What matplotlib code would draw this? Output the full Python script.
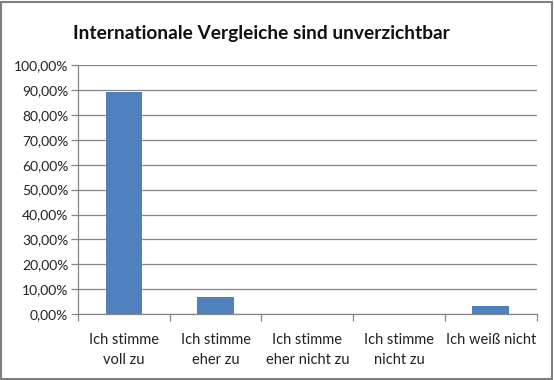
import matplotlib
matplotlib.use("Agg")
import matplotlib.pyplot as plt
from matplotlib.ticker import FuncFormatter, FixedLocator
from matplotlib.patches import Rectangle

categories = ["Ich stimme\nvoll zu", "Ich stimme\neher zu", "Ich stimme\neher nicht zu",
              "Ich stimme\nnicht zu", "Ich weiß nicht"]
values = [89.3, 6.9, 0.0, 0.0, 3.3]
yticks = [0, 10, 20, 30, 40, 50, 60, 70, 80, 90, 100]

plt.rcParams['font.family'] = ['Lato', 'DejaVu Sans']

W, H = 554, 380
fig = plt.figure(figsize=(W/100, H/100), dpi=100)
ax = fig.add_axes([78/W, 1-314/H, (536.5-78)/W, (314-65.3)/H])

x = list(range(len(categories)))
ax.bar(x, values, width=0.4, color="#4f81bd", zorder=3)
ax.set_xlim(-0.5, len(categories)-0.5)
ax.set_ylim(0, 100)
ax.yaxis.set_major_locator(FixedLocator(yticks))
ax.yaxis.set_major_formatter(FuncFormatter(lambda v, p: f"{v:.2f}%".replace('.', ',')))
ax.grid(axis='y', color="#868686", linewidth=0.9, zorder=0)
ax.set_xticks(x)
ax.set_xticklabels(categories, fontsize=10.5, color="#222222", linespacing=1.55)
ax.xaxis.set_minor_locator(FixedLocator([i-0.5 for i in range(len(categories)+1)]))
ax.tick_params(axis='x', which='major', length=0, pad=14)
ax.tick_params(axis='x', which='minor', length=5, color="#868686", width=0.9)
ax.tick_params(axis='y', length=5, color="#868686", width=0.9, labelsize=10, labelcolor="#222222", pad=2)
for s in ['top', 'right']:
    ax.spines[s].set_visible(False)
for s in ['left', 'bottom']:
    ax.spines[s].set_color("#868686")
    ax.spines[s].set_linewidth(0.9)

fig.text(261/W, 1-33/H, "Internationale Vergleiche sind unverzichtbar",
         ha='center', va='center', fontsize=13.8, fontweight='bold', color="#111111")

fig.patches.append(Rectangle((1/W, 1/H), (W-3)/W, (H-3)/H, transform=fig.transFigure,
                             fill=False, edgecolor="#7f7f7f", linewidth=1.5))

fig.savefig("out.png", dpi=100)
